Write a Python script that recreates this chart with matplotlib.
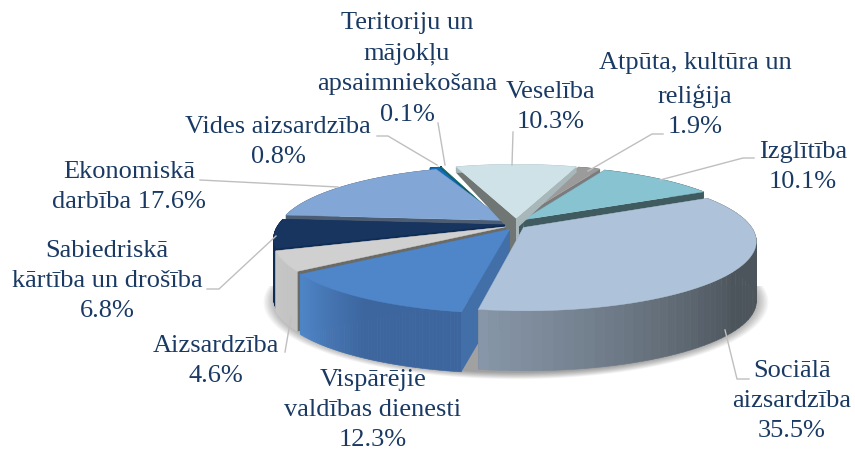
import numpy as np
import matplotlib
matplotlib.use("Agg")
import matplotlib.pyplot as plt
from matplotlib.colors import to_rgb

# clockwise from the top of the pie
names = ["Veselība", "Atpūta, kultūra un\nreliģija", "Izglītība", "Sociālā\naizsardzība",
         "Vispārējie\nvaldības dienesti", "Aizsardzība", "Sabiedriskā\nkārtība un drošība",
         "Ekonomiskā\ndarbība", "Vides aizsardzība", "Teritoriju un\nmājokļu\napsaimniekošana"]
values = [10.3, 1.9, 10.1, 35.5, 12.3, 4.6, 6.8, 17.6, 0.8, 0.1]
seps = ["\n", "\n", "\n", "\n", "\n", "\n", "\n", " ", "\n", "\n"]

top_colors = ["#cfe2e7", "#9b9b9b", "#88c3d1", "#aec3da", "#4e86c9",
              "#d0d0d0", "#17355e", "#82a7d6", "#0f6cb5", "#1f7a6a"]
wall_left = ["#6f7674", "#6f6f6f", "#3f5b60", "#5f6a78", "#426fa8",
             "#6a6a66", "#0f2c55", "#4c5c72", "#073e6c", "#0b3a3a"]
wall_right = ["#a8b8ba", "#7b7b7b", "#3f5b60", "#55606c", "#426fa8",
              "#6a6a66", "#0f2c55", "#4c5c72", "#073e6c", "#0b3a3a"]
rim_start = ["#a8b8ba", "#7b7b7b", "#3f5b60", "#4d555c", "#3d669f",
             "#c4c4c4", "#0f2c55", "#4c5c72", "#073e6c", "#0b3a3a"]
rim_end = ["#a8b8ba", "#7b7b7b", "#3f5b60", "#8796a8", "#4f86c8",
           "#c8c8c8", "#0f2c55", "#4c5c72", "#073e6c", "#0b3a3a"]

draw_order = [9, 8, 7, 1, 2, 0, 6, 5, 4, 3]

label_xy = [(551, 107), (695, 95), (803, 167), (792, 401), (373, 410),
            (216, 361), (107, 281), (129, 187), (278, 142), (407, 69)]
leaders = [[(513, 132), (512, 165)], [(663, 134), (652, 134), (588, 171)],
           [(754, 158), (743, 158), (660, 180)],
           [(749, 379), (737, 379), (725, 330)], [],
           [(285, 352), (291, 317)], [(207, 289), (219, 289), (276, 236)],
           [(200, 180), (338, 187)], [(377, 136), (388, 136), (437, 165)],
           [(438, 123), (445, 165)]]

text_color = "#1a3a64"
leader_color = "#bfbfbf"

cx, cy = 516, 224
a, b = 226, 66
persp = 0.19
explode_x = [0.03, 0.03, 0.05, 0.04, 0.05, 0.05, 0.05, 0.06, 0.24, 0.24]
explode_y = 0.09
start_angle = 108.5

plt.rcParams["font.family"] = ["Liberation Serif"]


def project(X, Y):
    w = 1 / (1 + persp * Y)
    return cx + a * X * w, cy - b * Y * w


def wall_depth(Y):
    # the side of the pie gets much thinner toward the back
    return np.interp(Y, [-1.0, 0.3, 0.85], [60, 60, 6])


def blend(c1, c2, t):
    c1, c2 = np.array(to_rgb(c1)), np.array(to_rgb(c2))
    return tuple(c1 + (c2 - c1) * t)


fig = plt.figure(figsize=(8.55, 4.5), dpi=100)
ax = fig.add_axes([0, 0, 1, 1])
ax.set_xlim(0, 855)
ax.set_ylim(450, 0)
ax.axis("off")

# soft shadow under the whole pie
t = np.radians(np.linspace(180, 360, 200))
for s in np.linspace(1.06, 1.0, 12):
    X, Y = s * np.cos(t) * 1.03, s * np.sin(t) * 1.05
    px, py = project(X, Y)
    ax.fill(px, py + wall_depth(Y) + 2, color="black", alpha=0.035, lw=0, zorder=1)

ends = start_angle - np.cumsum(values) * 3.6
starts = np.concatenate([[start_angle], ends[:-1]])

z = 2
for i in draw_order:
    mid = np.radians((starts[i] + ends[i]) / 2)
    ox, oy = explode_x[i] * np.cos(mid), explode_y * np.sin(mid)
    arc = np.radians(np.linspace(starts[i], ends[i], 60))
    X = ox + np.cos(arc)
    Y = oy + np.sin(arc)
    px, py = project(X, Y)
    pd = wall_depth(Y)
    x0, y0 = project(ox, oy)

    back = np.sin(mid) > 0.5
    d0_left = pd[0] * 1.4 if back else wall_depth(oy)
    d0_right = pd[-1] * 1.4 if back else wall_depth(oy)
    shift = 10 if back else 0

    # column in the middle of the back slices
    if back:
        ax.fill([x0 - shift, x0, x0, x0 - shift], [y0, y0, y0 + 40, y0 + 36],
                color=wall_left[i], lw=0, zorder=z)
        ax.fill([x0, x0 + 3, x0 + 3, x0], [y0, y0, y0 + 34, y0 + 40],
                color=wall_right[i], lw=0, zorder=z)
    # radial walls
    ax.fill([x0, px[0], px[0], x0 - shift], [y0, py[0], py[0] + pd[0], y0 + d0_left],
            color=wall_left[i], lw=0, zorder=z)
    ax.fill([x0, px[-1], px[-1], x0 + shift * 0.3], [y0, py[-1], py[-1] + pd[-1], y0 + d0_right],
            color=wall_right[i], lw=0, zorder=z)
    # outer wall with gradient along the arc
    for k in range(len(arc) - 1):
        c = blend(rim_start[i], rim_end[i], np.clip((k / (len(arc) - 2) - 0.5) / 0.5, 0, 1))
        ax.fill([px[k], px[k + 1], px[k + 1], px[k]],
                [py[k], py[k + 1], py[k + 1] + pd[k + 1], py[k] + pd[k]],
                color=c, lw=0.4, ec=c, zorder=z)
    # top face
    ax.fill(np.r_[x0, px], np.r_[y0, py], color=top_colors[i], lw=0.3,
            ec=top_colors[i], zorder=z + 1)
    z += 2

for i, pts in enumerate(leaders):
    if pts:
        xs, ys = zip(*pts)
        ax.plot(xs, ys, color=leader_color, lw=1, zorder=30)
    ax.text(label_xy[i][0], label_xy[i][1], f"{names[i]}{seps[i]}{values[i]}%",
            color=text_color, fontsize=19, ha="center", va="center",
            linespacing=1.48, zorder=31)

fig.savefig("out.png", dpi=100)
